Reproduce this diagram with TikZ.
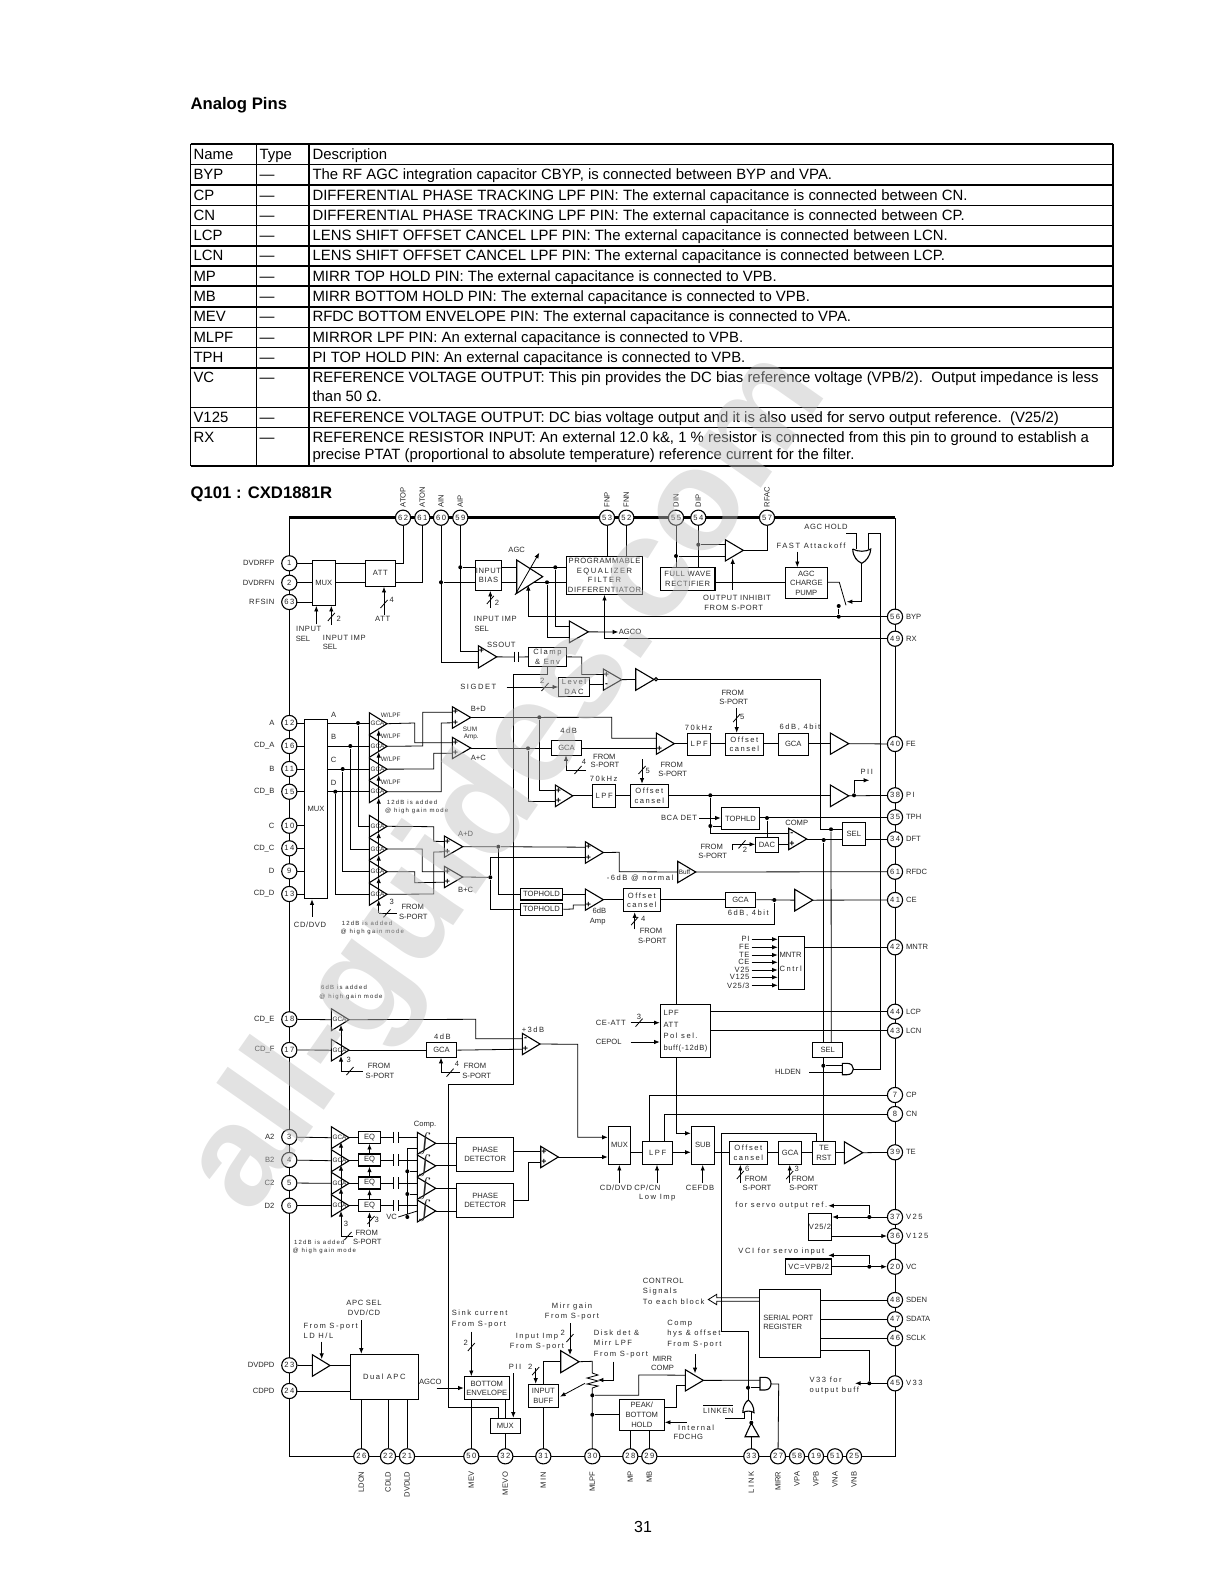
\documentclass[tikz,border=0pt]{standalone}
\usepackage{fontspec}
\setmainfont{Liberation Sans}
\newfontfamily\wf[LetterSpace=20]{Liberation Sans}
\newfontfamily\nf[LetterSpace=8]{Liberation Sans}
\usetikzlibrary{arrows.meta, backgrounds}

\newcounter{labc}
\tikzset{
  lbl/.style={font=\fontsize{3.8}{4.8}\selectfont, align=center, inner sep=0pt, text=black!85},
  wd/.style={font=\wf\fontsize{3.8}{4.8}\selectfont},
  nd/.style={font=\nf\fontsize{3.8}{4.8}\selectfont},
  sm/.style={font=\wf\fontsize{3}{4}\selectfont},
  blk/.style={draw, inner sep=0pt, align=center, font=\fontsize{3.8}{4.8}\selectfont, text=black!85},
  pinc/.style={circle, draw, fill=white, minimum size=7.6pt, inner sep=0pt, font=\wf\fontsize{3.8}{4.8}\selectfont, text=black!85},
  dotj/.style={circle, fill, minimum size=2pt, inner sep=0pt},
  gcat/.style={font=\fontsize{3.2}{4}\selectfont, inner sep=0pt, anchor=west, text=black!85},
  sgn/.style={font=\fontsize{4.4}{4.4}\bfseries\selectfont, inner sep=0pt},
  tabt/.style={font=\fontsize{7.45}{9}\selectfont, inner sep=0pt, anchor=base west},
  ttl/.style={font=\fontsize{8.35}{9}\bfseries\selectfont, inner sep=0pt, anchor=base west}
}
% labels, named by a counter
\newcommand{\lab}[4][]{\stepcounter{labc}\node[lbl,#1] (t\thelabc) at (#2,#3) {#4};}
\newcommand{\wlab}[4][]{\stepcounter{labc}\node[lbl,wd,#1] (t\thelabc) at (#2,#3) {#4};}
\newcommand{\nlab}[4][]{\stepcounter{labc}\node[lbl,nd,#1] (t\thelabc) at (#2,#3) {#4};}
\newcommand{\slab}[4][]{\stepcounter{labc}\node[lbl,sm,#1] (t\thelabc) at (#2,#3) {#4};}
% block from its corners
\newcommand{\bx}[7][]{\node[blk,minimum width={(#5-#3)*.5},minimum height={(#6-#4)*.5},#1] (#2) at ({(#3+#5)/2},{(#4+#6)/2}) {#7};}
% amplifier: name, x left, y top, y bottom, x tip, text
\newcommand{\ampl}[7][]{%
  \draw[#1] (#3,#4) -- (#6,{(#4+#5)/2}) -- (#3,#5) -- cycle;
  \coordinate (#2) at (#6,{(#4+#5)/2});
  \coordinate (#2i) at (#3,{(#4+#5)/2});
  \coordinate (#2a) at (#3,{#4+5.5});
  \coordinate (#2b) at (#3,{#5-5.5});
  \node[gcat] (#2t) at ({#3+.7},{(#4+#5)/2}) {#7};}
% signs at the two inputs
\newcommand{\sgns}[3]{\stepcounter{labc}\node[sgn] (s\thelabc) at ([xshift=1.6pt]#1a) {#2};\stepcounter{labc}\node[sgn] (s\thelabc) at ([xshift=1.6pt]#1b) {#3};}
\newcommand{\vin}[3]{\draw[->] (#1,#2) -- (#1,#2 |- #3);}
\newcommand{\hin}[3]{\draw[->] (#1,#2) -- (#1,#2 -| #3);}
\newcommand{\busmark}[2]{\draw ({#1-3.5},{#2+4}) -- ({#1+3.5},{#2-4});}

\begin{document}
\begin{tikzpicture}[x=.5pt, y=-.5pt, line width=.55pt, >={Latex[length=2.8pt,width=2.2pt]}]
  \useasboundingbox (0,0) rectangle (1219,1582);

  % Table
  \node[ttl] (title) at (190,110) {Analog Pins};
  \node[ttl] (chip) at (190,499) {Q101 : CXD1881R};
  \foreach \y in {164.3,205.3,225.3,266,286,327.3,347.3,407.3,427.3,466}
    \draw (190.5,\y) -- (1113,\y);
  \foreach \y in {143.7,184.7,245.7,306.7,367.7}
    \draw[line width=1pt] (190.5,\y) -- (1113,\y);
  \foreach \x in {190.5,256.5,309,1113}
    \draw (\x,143.7) -- (\x,466);
  \foreach \y/\nm/\ty/\ds in {
    159.3/Name/Type/Description,
    180/BYP/---/{The RF AGC integration capacitor CBYP, is connected between BYP and VPA.},
    200.3/CP/---/{DIFFERENTIAL PHASE TRACKING LPF PIN: The external capacitance is connected between CN.},
    220.5/CN/---/{DIFFERENTIAL PHASE TRACKING LPF PIN: The external capacitance is connected between CP.},
    241/LCP/---/{LENS SHIFT OFFSET CANCEL LPF PIN: The external capacitance is connected between LCN.},
    261/LCN/---/{LENS SHIFT OFFSET CANCEL LPF PIN: The external capacitance is connected between LCP.},
    281.5/MP/---/{MIRR TOP HOLD PIN: The external capacitance is connected to VPB.},
    302/MB/---/{MIRR BOTTOM HOLD PIN: The external capacitance is connected to VPB.},
    322/MEV/---/{RFDC BOTTOM ENVELOPE PIN: The external capacitance is connected to VPA.},
    342.5/MLPF/---/{MIRROR LPF PIN: An external capacitance is connected to VPB.},
    363/TPH/---/{PI TOP HOLD PIN: An external capacitance is connected to VPB.},
    383/VC/---/{REFERENCE VOLTAGE OUTPUT: This pin provides the DC bias reference voltage (VPB/2).\ \ Output impedance is less},
    422.5/V125/---/{REFERENCE VOLTAGE OUTPUT: DC bias voltage output and it is also used for servo output reference.\ \ (V25/2)},
    442.5/RX/---/{REFERENCE RESISTOR INPUT: An external 12.0 k\&, 1 \% resistor is connected from this pin to ground to establish a}
  }{
    \stepcounter{labc}
    \node[tabt] (ra\thelabc) at (193,\y) {\nm};
    \node[tabt] (rb\thelabc) at (259,\y) {\ty};
    \node[tabt] (rc\thelabc) at (312,\y) {\ds};
  }
  \node[tabt] (vc2) at (312,401.5) {than 50 Ω.};
  \node[tabt] (rx2) at (312,460) {precise PTAT (proportional to absolute temperature) reference current for the filter.};
  \node[inner sep=0pt, font=\fontsize{8}{9}\selectfont] (pageno) at (643,1527) {31};

  % Pins
  \coordinate (cTL) at (289.3,517.7);
  \coordinate (cTR) at (895,517.7);
  \coordinate (cBL) at (289.3,1456.3);
  \coordinate (cBR) at (895,1456.3);
  \foreach \n/\x/\tx in {62/403/ATOP,61/422.3/ATON,60/441/AIN,59/460.3/AIP,53/607/FNP,52/626.3/FNN,55/676/DIN,54/698.3/DIP,57/767/RFAC}{
    \node[pinc] (p\n) at (\x,517.7) {\n};
    \lab[rotate=90,anchor=west]{\x}{508}{\tx}
  }
  \foreach \n/\y/\tx in {1/563.3/DVDRFP,2/582.7/DVDRFN,63/602/{\nf RFSIN},12/723/A,16/746/CD\_A,11/769/B,15/791.7/CD\_B,10/825.7/C,14/848.3/CD\_C,9/871.3/D,13/894/CD\_D,18/1019.3/CD\_E,17/1050/CD\_F,3/1137/A2,4/1160/B2,5/1183/C2,6/1205.7/D2,23/1365.3/DVDPD,24/1391/CDPD}{
    \node[pinc] (p\n) at (289.3,\y) {\n};
    \lab[anchor=east]{275}{\y}{\tx}
  }
  \foreach \n/\y/\tx in {56/616.7/BYP,49/638.7/RX,40/744/FE,38/795.3/{\wf PI},35/817.3/TPH,34/839.3/DFT,41/900/CE,42/947.3/MNTR,44/1011.7/LCP,43/1030.7/LCN,7/1095/CP,8/1114/CN,39/1152.3/TE,37/1217/{\wf V25},36/1236/{\wf V125},20/1266.7/VC,48/1300/SDEN,47/1319.3/SDATA,46/1338.3/SCLK,45/1383.3/{\wf V33}}{
    \node[pinc] (p\n) at (895,\y) {\n};
    \lab[anchor=west]{905.5}{\y}{\tx}
  }
  \node[pinc] (p61b) at (895,871.7) {61};
  \lab[anchor=west]{905.5}{871.7}{RFDC}
  \foreach \n/\x/\tx in {26/361.3/LDON,22/388/CDLD,21/407/DVDLD,50/471.3/MEV,32/505.3/{\nf MEVO},31/543.3/{\wf MIN},30/592.3/MLPF,28/630.3/MP,29/649.3/MB,33/751.3/{\wf LINK},27/778/MIRR,58/797/VPA,19/816/VPB,51/835/VNA,25/854/VNB}{
    \node[pinc] (p\n) at (\x,1456.3) {\n};
    \lab[rotate=90,anchor=east]{\x}{1471}{\tx}
  }

  % Blocks
  \bx{mux1}{312.3}{560.3}{335.3}{605.3}{MUX}
  \bx[nd]{att}{365.3}{560.3}{395.3}{586.3}{ATT}
  \bx[nd]{bias}{475.7}{560.3}{501.3}{590.3}{INPUT\\BIAS}
  \bx[nd]{prog}{566.7}{556.3}{642.3}{594.3}{PROGRAMMABLE\\{\wf EQUALIZER}\\{\wf FILTER}\\DIFFERENTIATOR}
  \bx[nd]{rect}{660.3}{567.7}{715}{590.3}{FULL WAVE\\RECTIFIER}
  \bx{pump}{785.3}{567.7}{827.3}{598.3}{AGC\\CHARGE\\PUMP}
  \bx[wd]{clamp}{528.3}{647.3}{566.7}{666.7}{Clamp\\\& Env}
  \bx[wd]{level}{558.7}{677.3}{589.3}{696.7}{Level\\DAC}
  \bx{mux2}{304.3}{719.3}{327.7}{898.7}{MUX}
  \bx{gca2}{551.7}{740.7}{581.3}{755.3}{GCA}
  \bx[wd]{lpf1}{687.7}{733.3}{710.7}{755.3}{LPF}
  \bx[wd]{off1}{725.3}{733.3}{763.3}{755.3}{Offset\\cansel}
  \bx{gca1}{778.3}{733.3}{808.3}{755.3}{GCA}
  \bx[wd]{lpf2}{592.7}{784.3}{615.7}{807.3}{LPF}
  \bx[wd]{off2}{630.3}{784.3}{668.3}{807.3}{Offset\\cansel}
  \bx{tophld}{721.3}{807.3}{759.7}{829.7}{TOPHLD}
  \bx{dac}{755.7}{837.3}{778.3}{852.3}{DAC}
  \bx{sel1}{842.3}{822.7}{865.3}{845.7}{SEL}
  \bx{th1}{520.3}{888.3}{562.7}{900}{TOPHOLD}
  \bx{th2}{520.3}{903.3}{562.7}{915.3}{TOPHOLD}
  \bx[wd]{off3}{623.3}{888.7}{660.3}{911.7}{Offset\\cansel}
  \bx{gca3}{725.3}{892.3}{755.7}{907.7}{GCA}
  \bx{mntr}{778.3}{936.3}{804.7}{989.3}{}
  \lab[anchor=west,align=left]{779}{962}{MNTR\\[2pt]{\wf Cntrl}}
  \bx{lpf3}{660.3}{1004.3}{710.3}{1057.3}{}
  \nlab[anchor=west,align=left]{663}{1031}{LPF\\[1pt]ATT\\[1pt]{\wf Pol sel.}\\[1pt]buff(-12dB)}
  \bx{sel2}{812.7}{1042.3}{842.7}{1057.3}{SEL}
  \bx{gca5}{426.3}{1042.3}{456.7}{1057.7}{GCA}
  \foreach \n/\a/\b in {a/1131.3/1143.3,b/1154/1166,c/1177/1189,d/1199.7/1211.7}{
    \bx{eq\n}{358.3}{\a}{380.7}{\b}{EQ}
  }
  \bx{pd1}{456.7}{1137.3}{513.7}{1171.7}{PHASE\\DETECTOR}
  \bx{pd2}{456.7}{1183.3}{513.7}{1217.7}{PHASE\\DETECTOR}
  \bx{mux3}{608.3}{1126.3}{630.7}{1164.3}{MUX}
  \bx[wd]{lpf4}{642.7}{1141.7}{672.7}{1164.3}{LPF}
  \bx{sub}{691.3}{1126.3}{714.3}{1164.3}{SUB}
  \bx[wd]{off4}{729.3}{1141.7}{767.3}{1164.3}{Offset\\cansel}
  \bx{gca4}{778.7}{1141.7}{801.7}{1164.3}{GCA}
  \bx{terst}{812.7}{1141.7}{835.3}{1164.3}{TE\\RST}
  \bx[nd]{v25}{808.3}{1213.3}{831.7}{1240.3}{V25/2}
  \bx[nd]{vcb}{785.7}{1259}{831.7}{1274.3}{VC=VPB/2}
  \bx{spr}{759.3}{1289.3}{820.3}{1357.3}{}
  \lab[anchor=west,align=left]{762.7}{1322.5}{SERIAL PORT\\REGISTER}
  \bx[wd]{apc}{350.3}{1354.3}{418.3}{1399.3}{Dual APC}
  \bx{benv}{464.3}{1376.7}{509.3}{1399.7}{BOTTOM\\ENVELOPE}
  \bx{mux4}{490.3}{1418.3}{520.3}{1433.7}{MUX}
  \bx{ibuf}{528.3}{1384.3}{558.3}{1407.3}{INPUT\\BUFF}
  \bx{peak}{619.3}{1399.3}{664.3}{1430.3}{PEAK/\\BOTTOM\\HOLD}

  % Amplifiers
  \ampl{aAGC}{516.7}{560}{593.3}{542.7}{}
  \ampl{aAGCO}{569.3}{621}{642.7}{588.3}{}
  \ampl{aFW}{725.3}{539.7}{561}{743.3}{}
  \ampl{aSS}{478.3}{645.7}{668}{496.7}{}
  \ampl{aLv}{603.3}{669}{690.3}{621.7}{}
  \ampl{aInv}{635.7}{668.7}{690.3}{654}{}
  \foreach \n/\a/\b in {1/712.7/734.7,2/735.3/757.3,3/758.3/780,4/780.7/802.7,5/815.3/837.3,6/838/860,7/860.7/882.7,8/883.3/905.3}{
    \ampl{g\n}{369.3}{\a}{\b}{387}{GCA}
  }
  \ampl{aBD}{452.3}{706.7}{728.3}{470.7}{}
  \ampl{aAC}{452.3}{737.3}{758.7}{470.7}{}
  \ampl{aAD}{444.3}{836}{857.3}{462.7}{}
  \ampl{aBC}{444.3}{866.3}{887.7}{462.7}{}
  \ampl{aFE}{656.3}{733}{754.3}{674.3}{}
  \ampl{aFEo}{830.3}{733}{754.3}{848.7}{}
  \ampl{aPI}{555.3}{785}{806.7}{572.7}{}
  \ampl{aPIo}{830.3}{785}{806.7}{848.7}{}
  \ampl{aCo}{788.7}{828.3}{849.7}{806.7}{}
  \ampl{aSum}{585.3}{841.7}{863.3}{603.3}{}
  \ampl{aBuf}{677.7}{861.3}{882.7}{695.7}{Buff}
  \ampl{aTH}{585.3}{889}{910.3}{603.3}{}
  \ampl{aCE}{794.7}{889.3}{911}{812.7}{}
  \ampl{g18}{331.3}{1008.7}{1030.7}{349}{GCA}
  \ampl{g17}{331.3}{1039.3}{1061}{349}{GCA}
  \ampl{a3dB}{522.3}{1033.3}{1054.7}{540}{}
  \foreach \n/\a/\b in {3/1126.7/1148.7,4/1149.7/1171.7,5/1172.3/1194.3,6/1194.7/1216.7}{
    \ampl{g\n0}{331.3}{\a}{\b}{349}{GCA}
  }
  \foreach \n/\a/\b in {a/1132.3/1154.3,b/1155/1176.7,c/1177.3/1199.3,d/1200/1222}{
    \ampl{c\n}{417.3}{\a}{\b}{435.7}{\fontsize{5}{5}\selectfont$\int$}
  }
  \ampl{aPD}{540.7}{1146.3}{1167.7}{558.3}{}
  \ampl{aTE}{844.3}{1141.7}{1163.7}{862.7}{}
  \ampl{aLD}{312.3}{1354.7}{1376.3}{330}{}
  \ampl{aMg}{560.7}{1350.7}{1372.7}{579}{}
  \ampl{aMc}{685.3}{1369.7}{1391}{703.3}{}
  \sgns{aSS}{+}{}
  \sgns{aLv}{+}{-}
  \sgns{aBD}{+}{+}
  \sgns{aAC}{+}{+}
  \sgns{aAD}{+}{+}
  \sgns{aBC}{+}{+}
  \sgns{aFE}{}{+}
  \sgns{aPI}{+}{+}
  \sgns{aCo}{-}{+}
  \sgns{aSum}{+}{+}
  \sgns{aTH}{}{+}
  \sgns{a3dB}{-}{+}
  \sgns{aPD}{+}{+}

  % Gates
  \draw (852.7,549) .. controls (858,552) and (866,552) .. (870.7,549) .. controls (870,557) and (866,561) .. (861.7,563.3) .. controls (857,561) and (853,557) .. (852.7,549);
  \draw (842.3,1063.3) -- (847,1063.3) .. controls (855.5,1063.3) and (855.5,1074.7) .. (847,1074.7) -- (842.3,1074.7) -- cycle;
  \draw (760,1377.3) -- (765,1377.3) .. controls (773,1377.3) and (773,1390) .. (765,1390) -- (760,1390) -- cycle;
  \draw (742.7,1412.7) .. controls (746,1410.5) and (751,1410.5) .. (754,1412.7) .. controls (754,1406) and (751,1402) .. (748.3,1400) .. controls (745.5,1402) and (743,1406) .. (742.7,1412.7);
  \draw (745,1436.7) -- (751.3,1423) -- (759,1436.7) -- cycle;
  \draw[fill=white] (656,679.3) circle (1.6);

  % Junctions
  \foreach \n/\x/\y in {d59/460.3/567.3,d60/441/582.3,dA/555.3/567.3,dB/547/582.3,d55/676/556,d54/698.3/544.7,dSw/838.7/606,dBy/838.7/616.7,
    dA1/358/723,dB1/350.3/746,dC1/342.7/769,dD1/335.3/791.7,dBD/539.3/717.3,dAC/528/748.3,dAD/498.3/846.7,dBC/490.3/877.3,
    dPI/710.3/795.3,dPI2/710.3/826,dTP/767/818,dOut/854/795.3,dCo/823.7/840,dS2/831/829.3,dCE/774.3/900,dHl/823.3/1065.7,
    dV1/407.3/1171.3,dV2/407.3/1194,dV3/407.3/1217,dR1/869.3/1217,dR2/869.3/1266.7,dV33/869.3/1383.3,
    dMl1/592.3/1395.3,dMl2/592.3/1414.7,dLk/748/1387.7,dIn/751.3/1422.7}{
    \node[dotj] (\n) at (\x,\y) {};
  }

  % Connectors
  \begin{scope}[on background layer]
    % Frame
    \draw[line width=1.2pt] (cTL) -- (cTR);
    \draw (cTR) -- (cBR) -- (cBL) -- (cTL);
    % Input stage
    \foreach \n in {1,2,63} \draw (p\n) -- (mux1.west |- p\n);
    \draw (mux1.east |- p1) -- (att.west |- p1);
    \draw (mux1.east |- p2) -- (att.west |- p2);
    \draw (att.east |- p1) -- (p62 |- p1) -- (p62);
    \draw (att.east |- p2) -- (p61 |- p2) -- (p61);
    \vin{316.3}{624}{mux1.south}
    \vin{331.3}{625}{mux1.south}
    \busmark{331.3}{617}
    \vin{384}{615}{att.south}
    \busmark{384}{604}
    \draw (p59) -- (p59 |- aSSa) -- (aSSa);
    \draw (p60) -- (p60 |- aSSb) -- (aSSb);
    \draw (d59) -- (bias.west |- d59);
    \draw (d60) -- (bias.west |- d60);
    \draw (bias.east |- d59) -- (aAGCi |- d59);
    \draw (bias.east |- d60) -- (aAGCi |- d60);
    \draw (531,567.3) -- (prog.west |- dA);
    \draw (533,582.3) -- (prog.west |- dB);
    \vin{490.3}{608}{bias.south}
    \busmark{490.3}{600}
    \draw[->] (515,595) -- (539.3,552.7);
    \draw (dA) -- (dA |- aAGCOa) -- (aAGCOa);
    \draw (dB) -- (dB |- aAGCOb) -- (aAGCOb);
    \draw[->] (p56) -- (528.3,616.7) -- (528.3,585);
    \draw[->] (aAGCO) -- (618.3,632);
    \draw (p53) -- (p53 |- prog.north);
    \draw (p52) -- (p52 |- prog.north);
    \draw[->] (p49) -- (p49 -| prog.south) -- (prog.south);
    % Rectifier and charge pump
    \draw (p55) -- (p55 |- rect.north);
    \draw (p54) -- (p54 |- rect.north);
    \draw (d54) -- (aFWi |- d54);
    \draw (d55) -- (aFWi |- d55);
    \draw (aFW) -- (p57 |- aFW) -- (p57);
    \draw[->] (732.7,590) -- (732.7,558.3);
    \coordinate (cRP) at (750,582.3);
    \draw (rect.east |- cRP) -- (pump.west |- cRP);
    \vin{797.3}{551.7}{pump.north}
    \draw (pump.east |- cRP) -- (839.3,582.3) -- (846,605.3);
    \draw (dSw) -- (dBy);
    \draw (846,533) -- (856,533) -- (856,549);
    \draw (868.3,549) -- (868.3,533) -- (880.7,533) -- (880.7,1069) -- (853.3,1069);
    \draw[->] (861.7,563.3) -- (861.7,601.7) -- (846.7,601.7);
    % Clamp and level
    \draw (aSS) -- (514.3,657);
    \draw (518.3,657) -- (clamp.west |- aSS);
    \draw (514.3,651.7) -- (514.3,662.3);
    \draw (518.3,651.7) -- (518.3,662.3);
    \draw (clamp.east |- aSS) -- (581.7,657) -- (581.7,674.5) -- (aLva);
    \draw (level.east |- aLvb) -- (aLvb);
    \draw (aLv) -- (aInvi);
    \draw[->] (506.7,687) -- (level.west |- 506.7,687);
    \busmark{545}{687}
    \draw (655.7,679.3) -- (820.7,679.3) -- (820.7,829.3) -- (sel1.west |- dS2);
    \draw (547.3,666.7) -- (547.3,674.3) -- (513.3,674.3) -- (513.3,1084.3) -- (448.3,1084.3) -- (448.3,1407) -- (498.7,1407) -- (498.7,1418.3);
    % Pickup inputs
    \foreach \n in {12,16,11,15,10,14,9,13} \draw (p\n) -- (mux2.west |- p\n);
    \vin{312}{916.7}{mux2.south}
    \draw (mux2.east |- g1) -- (g1i);
    \draw (mux2.east |- g2) -- (g2i);
    \draw (mux2.east |- g3) -- (g3i);
    \draw (mux2.east |- g4) -- (g4i);
    \draw (dA1) -- (dA1 |- g5) -- (g5i);
    \draw (dB1) -- (dB1 |- g6) -- (g6i);
    \draw (dC1) -- (dC1 |- g7) -- (g7i);
    \draw (dD1) -- (dD1 |- g8) -- (g8i);
    \draw (g1) -- (414.7,723) -- (414.7,742.7) -- (aACa);
    \draw (g2) -- (422.7,746) -- (422.7,712.3) -- (aBDa);
    \draw (g3) -- (433.7,769) -- (433.7,753.3) -- (aACb);
    \draw (g4) -- (441.3,791.7) -- (441.3,723) -- (aBDb);
    \draw (g5) -- (433.7,826.7) -- (433.7,841.3) -- (aADa);
    \draw (g6) -- (422.3,849) -- (422.3,871.7) -- (aBCa);
    \draw (g7) -- (414.7,871.7) -- (414.7,882.7) -- (aBCb);
    \draw (g8) -- (433.7,894) -- (433.7,852) -- (aADb);
    \foreach \a/\b in {913/900,900/877.5,877.5/855,855/832.5,815/798,798/775,775/752,752/730}
      \draw[->] (378.7,\a) -- (378.7,\b);
    \draw (378.7,832.5) -- (378.7,815);
    \draw (378.7,913.3) -- (396.7,913.3);
    \busmark{387}{913.3}
    % Focus error row
    \draw (aBD) -- (611.7,717.3) -- (611.7,738.3) -- (aFEi |- 611.7,738.3);
    \draw (aAC) -- (gca2.west |- aAC);
    \draw (gca2.east |- aAC) -- (aFEi |- aAC);
    \draw (dBD) -- (dBD |- aPIa) -- (aPIa);
    \draw (dAC) -- (dAC |- aPIb) -- (aPIb);
    \draw (aFE) -- (lpf1.west |- aFE);
    \draw (lpf1.east |- aFE) -- (off1.west |- aFE);
    \draw (off1.east |- aFE) -- (gca1.west |- aFE);
    \draw (gca1.east |- aFE) -- (aFEoi);
    \draw (aFEo) -- (p40);
    \vin{736.7}{708.3}{off1.north}
    \busmark{736.7}{718}
    \draw[->] (586,770) -- (566,770) -- (566,755.3);
    \busmark{578}{770}
    \vin{642}{759.3}{off2.north}
    \busmark{642}{770}
    % PI row
    \draw (aPI) -- (lpf2.west |- aPI);
    \draw (lpf2.east |- aPI) -- (off2.west |- aPI);
    \draw (off2.east |- aPI) -- (aPIoi);
    \draw (aPIo) -- (p38);
    \draw[->] (dOut) -- (854,780.3) -- (869.3,780.3);
    \draw (dPI) -- (710.3,833.3) -- (aCoi |- 710.3,833.3);
    \draw (dPI2) -- (tophld.west |- dPI2);
    \hin{699}{818}{tophld.west}
    \draw (tophld.east |- p35) -- (p35);
    \draw (dTP) -- (dTP |- dac.north);
    \draw (dac.east |- aCob) -- (aCob);
    \draw[->] (732,850) -- (732,844.3) -- (dac.west |- 732,844.3);
    \busmark{742}{844.3}
    \draw (aCo) -- (sel1.west |- aCo);
    \draw (sel1.east |- p34) -- (p34);
    \draw (dS2) -- (831.3,1042.3);
    \draw (dCo) -- (823.7,1042.3);
    % RF and CE rows
    \draw (aAD) -- (dAD) -- (aSuma);
    \draw (aBC) -- (dBC);
    \draw (dBC) -- (dBC |- aSumb) -- (aSumb);
    \draw (dAD) -- (dAD |- th1) -- (th1.west);
    \draw (dBC) -- (dBC |- th2) -- (th2.west);
    \draw (aSum) -- (619.3,852.3) -- (619.3,871.7) -- (aBufi);
    \draw (aBuf) -- (p61b);
    \draw (th1.east) -- (aTHi |- th1);
    \draw (th2.east) -- (573.3,909) -- (573.3,905) -- (aTHi |- 573.3,905);
    \draw (aTH) -- (off3.west |- aTH);
    \draw (off3.east |- aTH) -- (gca3.west |- aTH);
    \draw (gca3.east |- aTH) -- (aCEi);
    \draw (aCE) -- (p41);
    \vin{634.7}{929.3}{off3.south}
    \busmark{634.7}{921}
    \draw (dCE) -- (774.3,924) -- (676.5,924) -- (676.5,1004.3);
    \draw[->] (676.5,1057.3) -- (676.5,1133.3) -- (sub.west |- 676.5,1133.3);
    % Monitor
    \foreach \y in {939.3,947.3,955,962.3,970,977.3,985.3}
      \hin{751.7}{\y}{mntr.west}
    \draw (mntr.east |- p42) -- (p42);
    \draw (lpf3.east |- p44) -- (p44);
    \draw (lpf3.east |- p43) -- (p43);
    \hin{630.7}{1022.7}{lpf3.west}
    \busmark{639}{1022.7}
    \hin{630.7}{1042}{lpf3.west}
    \draw (823.3,1057.3) -- (823.3,1141.7);
    \draw (dHl) -- (842.3,1065.7);
    \draw (809.3,1072.3) -- (842.3,1072.3);
    % CD_E and CD_F
    \draw (p18) -- (g18i);
    \draw (p17) -- (g17i);
    \draw (g18) -- (475.7,1019.3) -- (475.7,1038.7) -- (a3dBa);
    \draw (g17) -- (gca5.west |- g17);
    \draw (gca5.east |- g17) -- (a3dBb);
    \draw[->] (362.7,1071) -- (341,1071) -- (341,1056);
    \draw[->] (341,1056) -- (341,1025);
    \busmark{350}{1071}
    \draw[->] (460,1072.7) -- (441,1072.7) -- (441,1057.7);
    \busmark{450}{1072.7}
    \draw[->] (a3dB) -- (577.7,1044.3) -- (577.7,1137.3) -- (mux3.west |- 577.7,1137.3);
    % Phase detector inputs
    \foreach \n in {3,4,5,6} \draw (p\n) -- (g\n0i);
    \draw (g30) -- (eqa.west |- g30);
    \draw (g40) -- (eqb.west |- g40);
    \draw (g50) -- (eqc.west |- g50);
    \draw (g60) -- (eqd.west |- g60);
    \foreach \n/\y in {a/1137.3,b/1160,c/1183,d/1205.7}{
      \draw (eq\n.east) -- (393.7,\y);
      \draw (393.7,\y-5.7) -- (393.7,\y+5.7);
      \draw (398.3,\y-5.7) -- (398.3,\y+5.7);
      \draw (398.3,\y) -- (417.3,\y);
    }
    \foreach \a/\b in {1236/1211,1211/1188,1188/1165,1165/1142}
      \draw[->] (341,\a) -- (341,\b);
    \draw (341,1236) -- (353.3,1236);
    \busmark{348}{1236}
    \draw[->] (eqd.north) -- (eqc.south);
    \draw[->] (eqc.north) -- (eqb.south);
    \draw[->] (eqb.north) -- (eqa.south);
    \vin{369.5}{1226.7}{eqd.south}
    \busmark{371}{1220}
    \draw (398.3,1217) -- (cdi);
    \draw (dV3) -- (407.3,1148.3) -- (417.3,1148.3);
    \draw (dV1) -- (417.3,1171.3);
    \draw (dV2) -- (417.3,1194);
    \draw (ca) -- (pd1.west |- ca);
    \draw (cb) -- (pd1.west |- cb);
    \draw (cc) -- (pd2.west |- cc);
    \draw (cd) -- (pd2.west |- cd);
    \draw (pd1.east |- aPDa) -- (aPDa);
    \draw (pd2.east) -- (528.3,1200.5) -- (528.3,1162.2) -- (aPDb);
    \draw[->] (aPD) -- (mux3.west |- aPD);
    % Tracking error row
    \draw (mux3.east |- p39) -- (lpf4.west |- p39);
    \draw[->] (lpf4.east |- p39) -- (sub.west |- p39);
    \draw (sub.east |- p39) -- (off4.west |- p39);
    \draw (off4.east |- p39) -- (gca4.west |- p39);
    \draw (gca4.east |- p39) -- (terst.west |- p39);
    \draw (terst.east |- p39) -- (aTEi |- p39);
    \draw (aTE) -- (p39);
    \draw (p7) -- (649.7,1095) -- (649.7,1141.7);
    \draw (p8) -- (664.7,1114) -- (664.7,1141.7);
    \vin{619.3}{1183}{mux3.south}
    \vin{657}{1183}{lpf4.south}
    \vin{702.7}{1183}{sub.south}
    \vin{740.3}{1183}{off4.south}
    \busmark{740.3}{1175}
    \vin{789.7}{1183}{gca4.south}
    \busmark{789.7}{1175}
    \draw (816.7,1141.7) -- (816.7,1133.3) -- (721.7,1133.3) -- (721.7,1331.3) -- (748,1331.3) -- (748,1400);
    % References
    \draw[->] (dR1) -- (869.3,1205.7) -- (828.3,1205.7);
    \draw[->] (p37) -- (v25.east |- p37);
    \draw[->] (v25.east |- p36) -- (p36);
    \draw[->] (dR2) -- (869.3,1255.3) -- (828.3,1255.3);
    \draw[->] (vcb.east |- p20) -- (p20);
    % Serial port
    \draw (spr.east |- p48) -- (p48);
    \draw (spr.east |- p47) -- (p47);
    \draw (spr.east |- p46) -- (p46);
    \draw (spr.east |- 820,1350) -- (869.3,1350) -- (dV33);
    \draw[->] (p45) -- (855,1383.3);
    \draw (759.3,1297.7) -- (716.7,1297.7) -- (716.7,1294.3) -- (708.3,1299.5) -- (716.7,1304.7) -- (716.7,1301.3) -- (759.3,1301.3);
    % APC
    \draw (p23) -- (aLDi);
    \draw (aLD) -- (apc.west |- aLD);
    \draw (p24) -- (apc.west |- p24);
    \draw[->] (321.7,1341.7) -- (321.7,1359);
    \vin{361.3}{1320}{apc.north}
    \draw (p26) -- (p26 |- apc.south);
    \draw (p22) -- (p22 |- apc.south);
    \draw (p21) -- (p21 |- apc.south);
    % Envelope and mirror
    \draw (p50) -- (p50 |- benv.south);
    \vin{471.3}{1331.7}{benv.north}
    \busmark{471.3}{1347}
    \draw[->] (436.7,1388) -- (benv.west |- 436.7,1388);
    \draw (505.3,1399.7) -- (505.3,1418.3);
    \draw (p32) -- (p32 |- mux4.south);
    \vin{513.3}{1373.3}{mux4.north}
    \draw (p31) -- (p31 |- ibuf.south);
    \draw (ibuf.north -| p31) -- (p31 |- aMgi) -- (aMgi);
    \vin{535.7}{1368}{ibuf.north}
    \busmark{535.7}{1371}
    \draw[->] (570,1323.3) -- (570,1355);
    \busmark{570}{1338}
    \draw (aMg) -- (592.3,1361.3) -- (592.3,1373) -- (598,1375) -- (587,1378) -- (598,1381) -- (587,1384) -- (598,1386) -- (592.3,1388) -- (p30);
    \draw[->] (613.3,1361.7) -- (613.3,1380) -- (597.7,1380);
    \draw[->] (585,1383.3) -- (560,1396.7);
    \draw (dMl1) -- (638.7,1395.3) -- (638.7,1374.9) -- (aMca);
    \draw (dMl2) -- (peak.west |- dMl2);
    \draw (peak.east |- 664,1407) -- (676.3,1407) -- (676.3,1385.5) -- (aMcb);
    \draw[->] (695,1354) -- (695,1373.3);
    \draw (p28) -- (p28 |- peak.south);
    \draw (p29) -- (p29 |- peak.south);
    \hin{686.7}{1422.3}{peak.east}
    \draw (aMc) -- (760,1380.3);
    \draw (dLk) -- (760,1387.7);
    \draw (770.7,1384) -- (778.7,1384) -- (p27);
    \draw (725,1418) -- (744.3,1418) -- (744.3,1411.5);
    \draw (751.3,1412) -- (dIn) -- (751.3,1423);
    \draw (p33) -- (751.3,1436.7);
  \end{scope}

  % Labels
  \nlab{308.7}{629}{INPUT}
  \lab{303}{639}{SEL}
  \lab{338.7}{619.3}{2}
  \nlab{344.3}{638}{INPUT IMP}
  \lab{330}{647.3}{SEL}
  \lab{391.7}{600}{4}
  \nlab{382.7}{619.3}{ATT}
  \lab{497}{602.7}{2}
  \nlab{495.3}{619.3}{INPUT IMP}
  \lab{481.7}{629.3}{SEL}
  \lab{516.7}{550}{AGC}
  \lab{630}{632}{AGCO}
  \nlab{737}{598}{OUTPUT INHIBIT}
  \nlab{733.7}{608}{FROM S-PORT}
  \wlab{811}{546}{FAST Attackoff}
  \nlab{826}{527.3}{AGC HOLD}
  \nlab{501.3}{645}{SSOUT}
  \wlab{478.3}{687}{SIGDET}
  \lab{542.3}{681}{2}
  \lab{333.7}{715.3}{A}
  \lab{333.7}{737.3}{B}
  \lab{333.7}{760}{C}
  \lab{333.7}{783}{D}
  \foreach \y in {715,736.7,759.3,782.3} {\lab[font=\fontsize{3.2}{4}\selectfont]{390.7}{\y}{W/LPF}}
  \lab{478.3}{709}{B+D}
  \lab{478.3}{758}{A+C}
  \lab[font=\fontsize{3.2}{4}\selectfont]{470}{729}{SUM}
  \lab[font=\fontsize{3.2}{4}\selectfont]{471.3}{737}{Amp.}
  \slab{412}{802.7}{12dB is added}
  \slab{416.7}{810.7}{@ high gain mode}
  \slab{367}{923.7}{12dB is added}
  \slab{372.3}{931.7}{@ high gain mode}
  \lab{465.7}{834.3}{A+D}
  \lab{465.7}{890}{B+C}
  \lab{391.7}{902}{3}
  \lab{412.7}{907}{FROM}
  \lab{413.3}{916.7}{S-PORT}
  \nlab{310}{925}{CD/DVD}
  \wlab{568.7}{731}{4dB}
  \lab{584}{761.7}{4}
  \lab{604.3}{756.7}{FROM}
  \lab{605}{765}{S-PORT}
  \wlab{603.7}{778.3}{70kHz}
  \lab{647.7}{771}{5}
  \lab{671.7}{765.3}{FROM}
  \lab{672.7}{774}{S-PORT}
  \wlab{698.7}{727.3}{70kHz}
  \wlab{800}{727.3}{6dB, 4bit}
  \lab{732.7}{692.7}{FROM}
  \lab{733.7}{702}{S-PORT}
  \lab{742.3}{717.3}{5}
  \wlab{866.7}{772.3}{PII}
  \nlab{679}{818}{BCA DET}
  \lab{796.7}{823}{COMP}
  \lab{711.7}{847}{FROM}
  \lab{712.7}{856}{S-PORT}
  \lab{745}{850}{2}
  \wlab{640}{878.3}{-6dB @ normal}
  \lab{599.3}{911}{6dB}
  \lab{597.7}{921.3}{Amp}
  \wlab{748.3}{913.3}{6dB, 4bit}
  \lab{643.3}{919.3}{4}
  \lab{651}{931}{FROM}
  \lab{652.3}{940.7}{S-PORT}
  \foreach \y/\tx in {939.3/PI,947.3/FE,955/TE,962.3/CE,970/V25,977.3/V125,985.3/{V25/3}}
    {\nlab[anchor=east]{750}{\y}{\tx}}
  \nlab{610.7}{1022.7}{CE-ATT}
  \lab{639}{1017.3}{3}
  \lab{608.7}{1042}{CEPOL}
  \lab{788}{1072.3}{HLDEN}
  \slab{344}{987.7}{6dB is added}
  \slab{351}{996.7}{@ high gain mode}
  \lab{348.7}{1060}{3}
  \lab{379}{1066.3}{FROM}
  \lab{380}{1076}{S-PORT}
  \wlab{442.3}{1036.3}{4dB}
  \lab{457}{1063.7}{4}
  \lab{475}{1066.3}{FROM}
  \lab{476.7}{1076}{S-PORT}
  \wlab{533}{1030}{+3dB}
  \lab{425}{1124.7}{Comp.}
  \lab{391.7}{1216.7}{VC}
  \lab{346}{1224}{3}
  \lab{376.7}{1220}{3}
  \lab{366.7}{1233.3}{FROM}
  \lab{367.3}{1242.3}{S-PORT}
  \slab{319.3}{1242.7}{12dB is added}
  \slab{324.3}{1250.7}{@ high gain mode}
  \nlab{616}{1188}{CD/DVD}
  \nlab{647.3}{1188}{CP/CN}
  \wlab{657.3}{1197.3}{Low Imp}
  \nlab{700}{1188}{CEFDB}
  \lab{747.3}{1169.3}{6}
  \lab{756}{1179}{FROM}
  \lab{757}{1188}{S-PORT}
  \lab{796.7}{1169.3}{3}
  \lab{803}{1179}{FROM}
  \lab{803.7}{1188}{S-PORT}
  \wlab{781.3}{1205.7}{for servo output ref.}
  \wlab{781.3}{1251.7}{VCI for servo input}
  \wlab[anchor=west,align=left]{642.3}{1291}{{\nf CONTROL}\\[.5pt]Signals\\[.5pt]To each block}
  \wlab[anchor=west,align=left]{666.7}{1334}{Comp\\[.5pt]hys \& offset\\[.5pt]From S-port}
  \wlab[anchor=west,align=left]{593.3}{1344}{Disk det \&\\[.5pt]Mirr LPF\\[.5pt]From S-port}
  \lab{662.5}{1363.5}{MIRR\\COMP}
  \wlab[anchor=west,align=left]{451.3}{1319}{Sink current\\[.5pt]From S-port}
  \lab{465.7}{1343.3}{2}
  \wlab{537}{1341.8}{Input Imp\\From S-port}
  \wlab{572}{1311.3}{Mirr gain\\From S-port}
  \lab{562.7}{1333.3}{2}
  \wlab{515}{1366.7}{PII}
  \lab{530.3}{1366.7}{2}
  \lab{430.3}{1382.3}{AGCO}
  \wlab[anchor=west,align=left]{303}{1331}{From S-port\\LD H/L}
  \nlab{364}{1307.8}{APC SEL\\DVD/CD}
  \wlab{696}{1427.3}{Internal}
  \nlab{688.3}{1437}{FDCHG}
  \wlab[anchor=west,align=left]{809}{1385.3}{V33 for\\output buff}
  \node[lbl,nd] (linken) at (718.3,1411) {LINKEN};
  \draw (703.3,1405.7) -- (733.3,1405.7);

  % Watermark on top of everything
  \node[inner sep=0pt, rotate=55, text=black!25, text opacity=.45, font=\fontsize{72}{72}\bfseries\selectfont] (wmark) at (509,783) {all-guides.com};
\end{tikzpicture}
\end{document}
